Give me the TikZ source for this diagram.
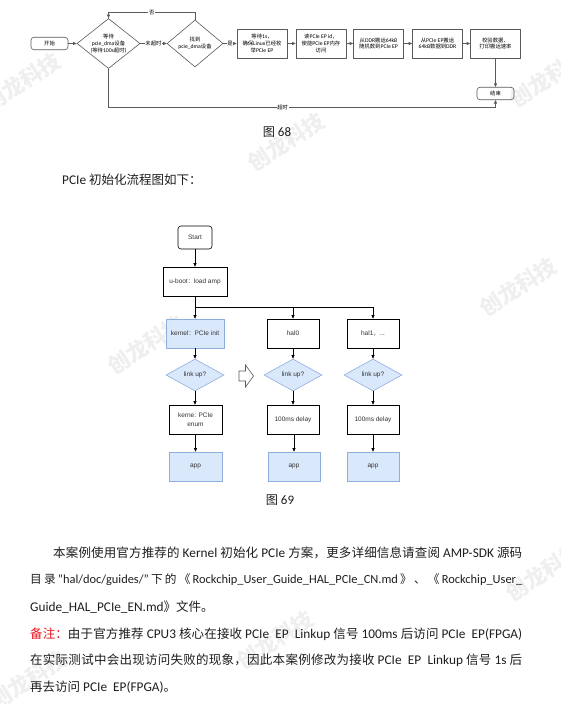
\documentclass[tikz,border=0pt]{standalone}
\usepackage{fontspec}
\setmainfont{Carlito}
\newfontfamily\cjk[Scale=0.94]{Noto Sans CJK SC}
\newfontfamily\hel{Liberation Sans}
\usetikzlibrary{shapes.geometric,arrows.meta}
% automatic switch to the CJK font for CJK characters
\XeTeXinterchartokenstate=1
\newXeTeXintercharclass\CJKc
\newcount\tmpc
\def\setcjkrange#1#2{\tmpc=#1\relax\loop\XeTeXcharclass\tmpc=\CJKc\relax\ifnum\tmpc<#2\relax\advance\tmpc by 1\repeat}
\setcjkrange{"3000}{"303F}
\setcjkrange{"4E00}{"9FFF}
\setcjkrange{"FF00}{"FFEF}
\newskip\cjkskip \cjkskip=0pt
\XeTeXinterchartoks 0 \CJKc={\hskip\cjkskip\begingroup\cjk}
\XeTeXinterchartoks 4095 \CJKc={\begingroup\cjk}
\XeTeXinterchartoks \CJKc 0={\endgroup\hskip\cjkskip}
\XeTeXinterchartoks \CJKc 4095={\endgroup}
\XeTeXinterchartoks \CJKc \CJKc={\hskip\cjkskip}
\definecolor{lc}{HTML}{5A5A5A}
\definecolor{bfill}{HTML}{DAE8FC}
\definecolor{bdraw}{HTML}{8FAEDC}
\definecolor{rednote}{HTML}{E8141C}
\definecolor{wm}{HTML}{EFEFEF}
\definecolor{txt}{HTML}{1E1E1E}
\definecolor{t2}{HTML}{333333}
\tikzset{
  tl/.style={draw=lc, line width=0.6pt},
  tfont/.style={font=\fontsize{5.7}{6.7}\selectfont},
  tbox/.style={tl, tfont, minimum width=50pt, minimum height=29pt, inner sep=0.5pt, align=center},
  tround/.style={tl, tfont, rounded corners=3pt, minimum width=37pt, minimum height=12.5pt, inner sep=0pt},
  tdia/.style={tl, diamond, minimum width=63pt, minimum height=50pt, inner sep=0pt},
  tdiab/.style={tl, diamond, minimum width=56pt, minimum height=47pt, inner sep=0pt},
  ttext/.style={tfont, align=center, inner sep=0pt},
  tlab/.style={tfont, fill=white, inner sep=0.6pt},
  l2/.style={draw=black, line width=0.6pt},
  f2/.style={font=\hel\fontsize{6.5}{8.5}\selectfont, text=t2},
  box2/.style={l2, f2, minimum width=52pt, minimum height=29pt, inner sep=0.5pt, align=center},
  blue2/.style={fill=bfill, draw=bdraw},
  rnd2/.style={l2, f2, rounded corners=3pt, minimum width=34pt, minimum height=23pt, inner sep=0pt},
  dia2/.style={diamond, f2, fill=bfill, draw=bdraw, line width=0.6pt, minimum width=58pt, minimum height=32pt, inner sep=0pt},
  body/.style={anchor=west, inner sep=0pt, text=txt, font=\fontsize{13.3}{15}\selectfont},
  captxt/.style={inner sep=0pt, text=txt, font=\fontsize{13}{15}\selectfont},
  wmark/.style={text=wm, rotate=33, font=\cjk\bfseries\fontsize{23}{23}\selectfont, inner sep=0pt}
}
\newcommand\jline[2]{\hbox to #1{\cjkskip=0pt plus 3pt minus 0.3pt #2}}
\begin{document}
\begin{tikzpicture}[x=1pt,y=-1pt, >={Triangle[length=3.5pt,width=3pt]}]
\useasboundingbox (0,0) rectangle (560,704);
\fill[white] (0,0) rectangle (560,704);
% watermarks
\node[wmark] (w1) at (22,82) {创龙科技};
\node[wmark] (w2) at (548,78) {创龙科技};
\node[wmark] (w3) at (286,142) {创龙科技};
\node[wmark] (w4) at (518,287) {创龙科技};
\node[wmark] (w5) at (146,345) {创龙科技};
\node[wmark] (w6) at (544,572) {创龙科技};
\node[wmark] (w7) at (275,640) {创龙科技};
\node[wmark] (w8) at (28,680) {创龙科技};

% ---------- figure 68 ----------
\node[tround] (s1) at (49.5,43.5) {开始};
\node[tdia] (d1) at (108.5,43.5) {};
\node[ttext] (d1t) at (d1) {等待\\pcie\_dma设备\\(等待100s超时)};
\node[tdiab] (d2) at (195,43.5) {};
\node[ttext] (d2t) at (d2) {找到\\pcie\_dma设备};
\node[tbox] (b1) at (262,43.5) {等待1s，\\确保Linux已经枚\\举PCIe EP};
\node[tbox] (b2) at (321,43.5) {读PCIe EP id，\\使能PCIe EP内存\\访问};
\node[tbox] (b3) at (378.5,43.5) {从DDR搬运64kB\\随机数到PCIe EP};
\node[tbox] (b4) at (437.5,43.5) {从PCIe EP搬运\\64kB数据到DDR};
\node[tbox] (b5) at (495.5,43.5) {校验数据、\\打印搬运速率};
\node[tround] (e1) at (495.5,93.5) {结束};

\draw[tl,->] (s1) -- (d1);
\draw[tl,->] (d1) -- node[tlab]{未超时} (d2);
\draw[tl,->] (d2) -- node[tlab]{是} (b1);
\draw[tl,->] (b1) -- (b2);
\draw[tl,->] (b2) -- (b3);
\draw[tl,->] (b3) -- (b4);
\draw[tl,->] (b4) -- (b5);
\draw[tl,->] (b5) -- (e1);
\draw[tl,->] (d2.north) -- ++(0,-7.5) -| node[pos=0.25,tlab]{否} (d1.north);
\draw[tl,->] (d1.south) -- ++(0,38.5) -| node[pos=0.225,tlab]{超时} (e1.south);

\node[captxt] (c68) at (277,132) {图 68};
\node[body] (p0) at (62,180) {PCIe 初始化流程图如下：};

% ---------- figure 69 ----------
\node[rnd2] (st) at (195,237.5) {Start};
\node[box2, minimum width=64pt] (ub) at (195,281.5) {u-boot：load amp};
\node[box2, blue2, minimum width=58pt] (k1) at (195,333.5) {kernel：PCIe init};
\node[box2] (h0) at (293,333.5) {hal0};
\node[box2] (h1) at (373,333.5) {hal1，...};
\node[dia2] (dk) at (195,375) {link up?};
\node[dia2] (d0) at (293,375) {link up?};
\node[dia2] (dh) at (373,375) {link up?};
\node[box2, minimum width=53pt] (k2) at (195.5,419.5) {kerne: PCIe\\enum};
\node[box2] (h0b) at (293,419.5) {100ms delay};
\node[box2] (h1b) at (373,419.5) {100ms delay};
\node[box2, blue2, minimum width=53pt] (a1) at (195.5,466.5) {app};
\node[box2, blue2] (a2) at (294,466.5) {app};
\node[box2, blue2] (a3) at (373,466.5) {app};
\coordinate (br) at (195,307);

\draw[l2,->] (st) -- (ub);
\draw[l2] (ub.south) -- (br);
\draw[l2,->] (br) -- (k1);
\draw[l2,->] (br) -| (h0.north);
\draw[l2,->] (br) -| (h1.north);
\draw[l2,->] (k1) -- (dk);
\draw[l2,->] (h0) -- (d0);
\draw[l2,->] (h1) -- (dh);
\draw[l2,->] (dk) -- (dk |- k2.north);
\draw[l2,->] (d0) -- (h0b);
\draw[l2,->] (dh) -- (h1b);
\draw[l2,->] (k2.south -| a1) -- (a1);
\draw[l2,->] (h0b.south -| a2) -- (a2);
\draw[l2,->] (h1b) -- (a3);
% hollow arrow
\draw[black!65, line width=0.6pt, fill=white, line join=miter]
  (239,371) -- (245.5,371) -- (245.5,365) -- (253.5,376) -- (245.5,387) -- (245.5,381) -- (239,381) -- cycle;

\node[captxt] (c69) at (280,500) {图 69};

% ---------- body text ----------
\node[body] (t1) at (53,553) {\jline{469pt}{本案例使用官方推荐的 Kernel 初始化 PCIe 方案，更多详细信息请查阅 AMP-SDK 源码}};
\node[body, font=\fontsize{12.4}{15}\selectfont] (t2) at (30,580) {\jline{492pt}{目录"hal/doc/guides/"下的《Rockchip\_User\_Guide\_HAL\_PCIe\_CN.md》、《Rockchip\_User\_}};
\node[body] (t3) at (30,607) {Guide\_HAL\_PCIe\_EN.md》文件。};
\node[body] (t4) at (30,634) {\jline{492pt}{\textcolor{rednote}{备注：}由于官方推荐 CPU3 核心在接收 PCIe\ \ EP\ \ Linkup 信号 100ms 后访问 PCIe\ \ EP(FPGA)}};
\node[body] (t5) at (30,660) {\jline{492pt}{在实际测试中会出现访问失败的现象，因此本案例修改为接收 PCIe\ \ EP\ \ Linkup 信号 1s 后}};
\node[body] (t6) at (30,687) {再去访问 PCIe\ \ EP(FPGA)。};
\end{tikzpicture}
\end{document}
